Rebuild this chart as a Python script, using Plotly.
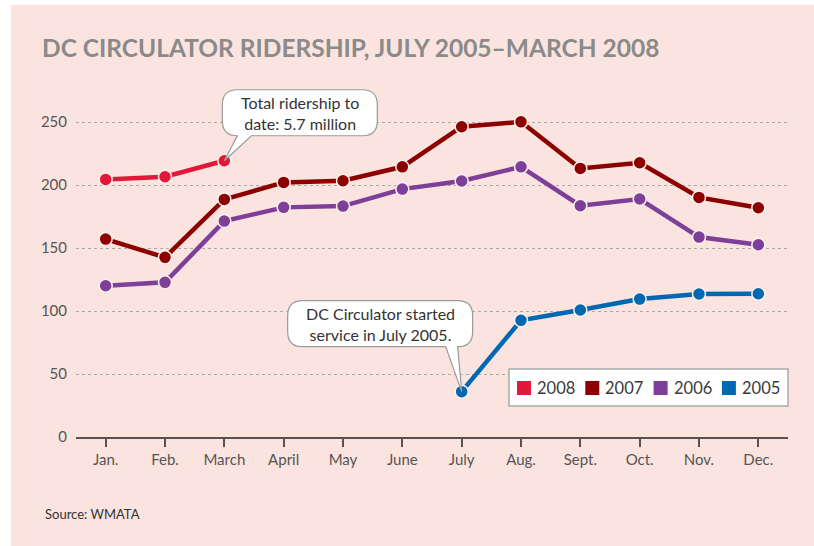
import plotly.graph_objects as go

months = ["Jan.", "Feb.", "March", "April", "May", "June", "July", "Aug.", "Sept.", "Oct.", "Nov.", "Dec."]
r2008 = [204.5, 206.6, 219.3, None, None, None, None, None, None, None, None, None]
r2007 = [157.1, 142.6, 188.6, 202.1, 203.4, 214.5, 246.3, 250.2, 213.2, 217.7, 190.2, 182.0]
r2006 = [120.1, 122.8, 171.4, 182.3, 183.3, 196.8, 203.2, 214.5, 183.6, 188.9, 158.7, 152.6]
r2005 = [None, None, None, None, None, None, 36.0, 92.6, 100.8, 109.5, 113.5, 113.7]
yticks = [0, 50, 100, 150, 200, 250]
legend_names = ["2008", "2007", "2006", "2005"]

colors = {"2008": "#E2183A", "2007": "#8C0000", "2006": "#7D3F98", "2005": "#0067B1"}
series = [("2008", r2008), ("2007", r2007), ("2006", r2006), ("2005", r2005)]

W, H = 814, 546
PL, PR, PB = 76, 788, 437          # plot area left/right/bottom (px)
YMAX = 285
PT = PB - YMAX * 1.26              # plot area top (px)


def px2x(p):
    return (p - PL) / (PR - PL)


def py2y(p):
    return (PB - p) / (PB - PT)


xs = list(range(len(months)))
BG = "#FBE4DF"
fig = go.Figure()

for name, vals in series:
    col = colors[name]
    fig.add_trace(go.Scatter(
        x=xs, y=vals, mode="lines+markers", name=name, showlegend=False,
        line=dict(color=col, width=4.5),
        marker=dict(color=col, size=13, line=dict(color="#FDF1EE", width=1.5)),
        connectgaps=False, hoverinfo="skip"))

# page background
fig.add_shape(type="rect", xref="paper", yref="paper",
              x0=px2x(11), x1=px2x(W), y0=py2y(H), y1=py2y(5),
              fillcolor=BG, line=dict(width=0), layer="below")

# Callout 1: March 2008 (pixel path relative to the data point, +y up)
ix1, yv1 = 2, r2008[2]
L, R, B, T, r = -2, 153, 25, 71, 15
path1 = (f"M 0,0 L 27,{B} L {R-r},{B} Q {R},{B} {R},{B+r} L {R},{T-r} Q {R},{T} {R-r},{T} "
         f"L {L+r},{T} Q {L},{T} {L},{T-r} L {L},{B+r} Q {L},{B} {L+r},{B} Z")
fig.add_shape(type="path", xref="x", yref="y", xsizemode="pixel", ysizemode="pixel",
              xanchor=ix1, yanchor=yv1, path=path1, fillcolor="white",
              line=dict(color="#9a9a9a", width=1.2), layer="above")
fig.add_annotation(x=ix1, y=yv1, xref="x", yref="y", xshift=(L + R) / 2, yshift=(B + T) / 2,
                   text="Total ridership to<br>date: 5.7 million", showarrow=False,
                   font=dict(size=16, color="#333333", family="Lato"), align="center")

# Callout 2: July 2005
ix2, yv2 = 6, r2005[6]
L, R, B, T, r = -174, 11, 45, 91, 15
path2 = (f"M 0,0 L {R-r},{B} Q {R},{B} {R},{B+r} L {R},{T-r} Q {R},{T} {R-r},{T} "
         f"L {L+r},{T} Q {L},{T} {L},{T-r} L {L},{B+r} Q {L},{B} {L+r},{B} L -16,{B} Z")
fig.add_shape(type="path", xref="x", yref="y", xsizemode="pixel", ysizemode="pixel",
              xanchor=ix2, yanchor=yv2, path=path2, fillcolor="white",
              line=dict(color="#9a9a9a", width=1.2), layer="above")
fig.add_annotation(x=ix2, y=yv2, xref="x", yref="y", xshift=(L + R) / 2, yshift=(B + T) / 2,
                   text="DC Circulator started<br>service in July 2005.", showarrow=False,
                   font=dict(size=16, color="#333333", family="Lato"), align="center")

# Legend box (drawn)
fig.add_shape(type="rect", xref="paper", yref="paper",
              x0=px2x(509), x1=px2x(788), y0=py2y(406), y1=py2y(369),
              fillcolor="white", line=dict(color="#aaaaaa", width=1.5), layer="above")
for i, name in enumerate(legend_names):
    sx = 517 + i * 68.3
    fig.add_shape(type="rect", xref="paper", yref="paper",
                  x0=px2x(sx), x1=px2x(sx + 14), y0=py2y(395), y1=py2y(381),
                  fillcolor=colors[name], line=dict(width=0), layer="above")
    fig.add_annotation(xref="paper", yref="paper", x=px2x(sx + 18), y=py2y(388),
                       xanchor="left", yanchor="middle", showarrow=False, text=name,
                       font=dict(size=16.5, color="#3a3a3a", family="Lato"))

# Title and source
fig.add_annotation(xref="paper", yref="paper", x=px2x(40), y=py2y(47),
                   xanchor="left", yanchor="middle", showarrow=False,
                   text="<b>DC CIRCULATOR RIDERSHIP, JULY 2005–MARCH 2008</b>",
                   font=dict(size=24.5, color="#8a8a8a", family="Lato"))
fig.add_annotation(xref="paper", yref="paper", x=px2x(43), y=py2y(514),
                   xanchor="left", yanchor="middle", showarrow=False,
                   text="Source: WMATA", font=dict(size=13, color="#333333", family="Lato"))

fig.update_layout(
    width=W, height=H,
    margin=dict(l=PL, r=W - PR, t=PT, b=H - PB, autoexpand=False),
    paper_bgcolor="white", plot_bgcolor="rgba(0,0,0,0)",
    font=dict(family="Lato", color="#555555"),
    showlegend=False,
    xaxis=dict(range=[-0.5, 11.5], tickmode="array", tickvals=xs, ticktext=months,
               showgrid=False, zeroline=False, showline=True, linecolor="#5a5050", linewidth=2,
               ticks="outside", ticklen=8, tickwidth=2, tickcolor="#5a5050",
               tickfont=dict(size=15, color="#555555"), fixedrange=True),
    yaxis=dict(range=[0, YMAX], tickmode="array", tickvals=yticks,
               showgrid=True, gridcolor="#aaaaaa", griddash="dot", gridwidth=1.2,
               zeroline=False, showline=False, ticks="", ticklabelstandoff=8,
               tickfont=dict(size=15, color="#555555"), fixedrange=True),
)

fig.write_html("out.html", config={"displayModeBar": False},
               post_script="document.body.style.margin='0';")
